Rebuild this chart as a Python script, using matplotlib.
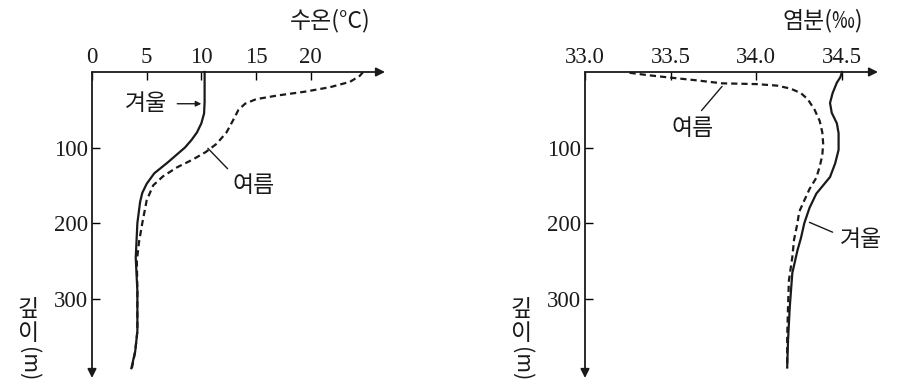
import matplotlib
matplotlib.use("Agg")
import matplotlib.pyplot as plt

# 수온 (왼쪽 그래프)
temp_winter_depth = [0, 40, 55, 68, 80, 90, 100, 110, 120, 134, 148, 160, 172, 200, 246, 290, 343, 370, 392]
temp_winter = [10.3, 10.3, 10.25, 10.0, 9.6, 9.1, 8.5, 7.7, 6.9, 5.7, 5.0, 4.6, 4.4, 4.15, 4.0, 4.15, 4.15, 3.95, 3.6]
temp_summer_depth = [0, 5, 13, 20, 26, 31, 36, 42, 50, 64, 80, 95, 106, 116, 126, 138, 150, 170, 200, 225, 250, 290, 343, 370, 392]
temp_summer = [24.8, 24.5, 23.6, 21.8, 19.5, 17.0, 15.0, 14.0, 13.4, 12.9, 12.3, 11.4, 10.4, 9.2, 7.8, 6.5, 5.6, 5.0, 4.6, 4.3, 4.1, 4.15, 4.15, 3.95, 3.65]
temp_ticks = [0, 5, 10, 15, 20]

# 염분 (오른쪽 그래프)
sal_winter_depth = [0, 7, 14, 28, 41, 54, 68, 81, 103, 121, 139, 161, 180, 200, 220, 236, 266, 311, 355, 391]
sal_winter = [34.50, 34.49, 34.47, 34.445, 34.43, 34.44, 34.47, 34.48, 34.48, 34.46, 34.43, 34.35, 34.31, 34.28, 34.26, 34.24, 34.21, 34.195, 34.185, 34.18]
sal_summer_depth = [1, 4, 7, 11, 15, 16, 18, 22, 28, 36, 50, 65, 80, 95, 110, 125, 140, 155, 170, 185, 200, 222, 245, 276, 310, 350, 392]
sal_summer = [33.26, 33.36, 33.48, 33.65, 33.80, 34.0, 34.12, 34.20, 34.26, 34.30, 34.34, 34.37, 34.385, 34.39, 34.385, 34.37, 34.35, 34.31, 34.28, 34.25, 34.24, 34.22, 34.21, 34.19, 34.185, 34.18, 34.18]
sal_ticks = [33.0, 33.5, 34.0, 34.5]
sal_ticklabels = ["33.0", "33.5", "34.0", "34.5"]

depth_ticks = [100, 200, 300]

KR = ["Noto Sans CJK KR", "DejaVu Sans"]
NUM = ["Liberation Serif", "DejaVu Serif"]
INK = "#1a1a1a"
FS_NUM = 16.5
FS_KR = 16.5
DASH = (2.8, 1.8)

W, H = 904, 385
fig = plt.figure(figsize=(W / 100, H / 100), dpi=100)


def px(x, y):
    """픽셀 좌표 -> figure 좌표"""
    return x / W, 1 - y / H


def make_axes(left_px, right_px, xlim):
    top_px, bottom_px = 72, 378
    ax = fig.add_axes([left_px / W, 1 - bottom_px / H,
                       (right_px - left_px) / W, (bottom_px - top_px) / H])
    ax.set_xlim(*xlim)
    ax.set_ylim(405, 0)
    for s in ax.spines.values():
        s.set_visible(False)
    ax.xaxis.tick_top()
    ax.tick_params(axis="x", direction="in", length=6, width=1.0, pad=3,
                   top=True, bottom=False, labeltop=True, labelbottom=False)
    ax.tick_params(axis="y", direction="in", length=6, width=1.0, pad=3)
    # 축 화살표
    arrow = dict(arrowstyle="-|>", lw=1.3, color=INK, mutation_scale=13,
                 shrinkA=0, shrinkB=0)
    ax.annotate("", xy=(1.0, 1.0), xytext=(0, 1.0), xycoords="axes fraction",
                arrowprops=arrow)
    ax.annotate("", xy=(0, 0.0), xytext=(0, 1.0), xycoords="axes fraction",
                arrowprops=arrow)
    ax.set_yticks(depth_ticks)
    ax.set_yticklabels([str(t) for t in depth_ticks], family=NUM, fontsize=FS_NUM, color=INK)
    return ax


def depth_label(x_px):
    fig.text(*px(x_px, 309), "깊", family=KR, fontsize=FS_KR, ha="center", va="center", color=INK)
    fig.text(*px(x_px, 334), "이", family=KR, fontsize=FS_KR, ha="center", va="center", color=INK)
    fig.text(*px(x_px, 364), "(m)", family=KR, fontsize=FS_KR - 1, ha="center", va="center",
             rotation=-90, color=INK)


# 왼쪽: 수온
ax1 = make_axes(92, 385, (0, 26.8))
ax1.set_xticks(temp_ticks)
ax1.set_xticklabels([str(t) for t in temp_ticks], family=NUM, fontsize=FS_NUM, color=INK)
ax1.plot(temp_winter, temp_winter_depth, color=INK, lw=1.6, clip_on=False)
ax1.plot(temp_summer, temp_summer_depth, color=INK, lw=1.6, dashes=DASH, clip_on=False)
fig.text(*px(330, 21), "수온(°C)", family=KR, fontsize=FS_KR, ha="center", va="center", color=INK)
ax1.text(4.9, 42, "겨울", family=KR, fontsize=FS_KR, ha="center", va="center", color=INK)
ax1.annotate("", xy=(10.0, 42), xytext=(7.8, 42),
             arrowprops=dict(arrowstyle="-|>", lw=1.0, color=INK,
                             mutation_scale=8, shrinkA=0, shrinkB=0))
ax1.text(14.8, 150, "여름", family=KR, fontsize=FS_KR, ha="center", va="center", color=INK)
ax1.annotate("", xy=(10.6, 101), xytext=(12.4, 128),
             arrowprops=dict(arrowstyle="-", lw=1.0, color=INK, shrinkA=0, shrinkB=0))
depth_label(28)

# 오른쪽: 염분
ax2 = make_axes(585, 878, (33.0, 34.71))
ax2.set_xticks(sal_ticks)
ax2.set_xticklabels(sal_ticklabels, family=NUM, fontsize=FS_NUM, color=INK)
ax2.plot(sal_winter, sal_winter_depth, color=INK, lw=1.6, clip_on=False)
ax2.plot(sal_summer, sal_summer_depth, color=INK, lw=1.6, dashes=DASH, clip_on=False)
fig.text(*px(823, 21), "염분(‰)", family=KR, fontsize=FS_KR, ha="center", va="center", color=INK)
ax2.text(33.63, 75, "여름", family=KR, fontsize=FS_KR, ha="center", va="center", color=INK)
ax2.annotate("", xy=(33.80, 19), xytext=(33.68, 51),
             arrowprops=dict(arrowstyle="-", lw=1.0, color=INK, shrinkA=0, shrinkB=0))
ax2.text(34.61, 222, "겨울", family=KR, fontsize=FS_KR, ha="center", va="center", color=INK)
ax2.annotate("", xy=(34.31, 199), xytext=(34.445, 212),
             arrowprops=dict(arrowstyle="-", lw=1.0, color=INK, shrinkA=0, shrinkB=0))
depth_label(521)

fig.savefig("out.png", dpi=100, facecolor="white")
